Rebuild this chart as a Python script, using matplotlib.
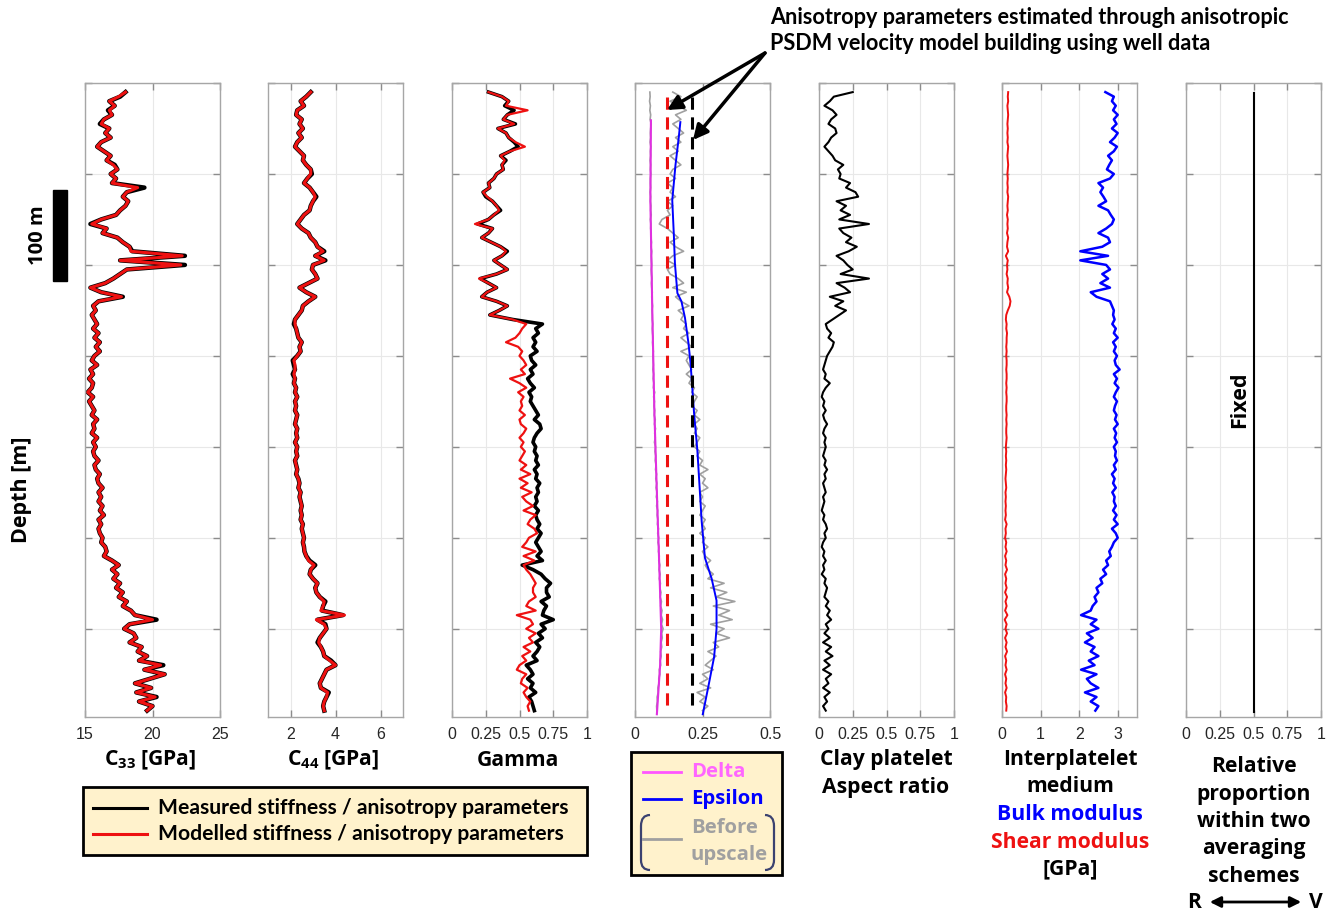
import numpy as np
import matplotlib.pyplot as plt
from matplotlib.patches import Rectangle, FancyArrowPatch, PathPatch
from matplotlib.path import Path
import matplotlib.transforms as mtransforms

plt.rcParams['mathtext.fontset'] = 'custom'
plt.rcParams['mathtext.bf'] = 'Open Sans:bold'
plt.rcParams['mathtext.rm'] = 'Open Sans:bold'

# depth samples of the logs [m below top of interval], 5 m spacing
depth = np.arange(10, 695, 5)

# C33 [GPa]
c33_meas = [18.0, 17.6, 16.8, 17.2, 16.7, 17.0, 16.4, 16.1, 16.8, 16.5,
            16.9, 16.2, 15.9, 16.4, 16.9, 16.6, 17.2, 17.4, 16.9, 17.3,
            17.0, 19.4, 18.1, 17.8, 18.2, 18.0, 17.6, 17.3, 16.2, 15.4,
            16.6, 16.3, 17.4, 17.8, 18.3, 18.5, 22.4, 17.6, 22.4, 18.1,
            17.6, 17.1, 16.5, 15.4, 16.2, 17.8, 16.0, 15.6, 15.8, 15.5,
            15.7, 15.9, 15.6, 16.0, 15.7, 16.1, 15.8, 16.1, 15.7, 15.5,
            15.9, 15.4, 15.6, 15.3, 15.6, 15.5, 15.2, 15.6, 15.3, 15.5,
            15.7, 15.5, 15.9, 15.6, 15.7, 15.5, 15.9, 15.6, 15.8, 15.6,
            15.7, 16.0, 15.7, 15.8, 16.1, 15.9, 16.0, 16.3, 16.0, 16.2,
            16.0, 16.3, 16.1, 16.4, 16.0, 16.2, 16.0, 16.1, 16.3, 16.2,
            16.5, 16.6, 16.4, 17.0, 17.5, 17.0, 17.4, 17.1, 17.6, 17.3,
            17.8, 17.5, 18.1, 17.8, 18.4, 18.7, 20.3, 18.3, 17.9, 18.6,
            18.8, 18.3, 19.2, 18.9, 19.6, 19.0, 20.8, 19.4, 20.9, 19.8,
            18.7, 19.9, 18.8, 20.3, 19.0, 20.0, 19.6]
c33_mod = [18.0, 17.5, 16.8, 17.2, 16.8, 17.0, 16.4, 16.2, 16.8, 16.5,
           16.9, 16.2, 15.9, 16.4, 16.9, 16.6, 17.1, 17.4, 16.9, 17.3,
           17.0, 18.9, 18.1, 17.8, 18.2, 18.0, 17.6, 17.3, 16.2, 15.5,
           16.6, 16.3, 17.4, 17.8, 18.3, 18.4, 22.2, 17.6, 22.1, 18.1,
           17.6, 17.1, 16.5, 15.4, 16.2, 17.7, 16.0, 15.6, 15.8, 15.5,
           15.7, 15.9, 15.6, 16.0, 15.7, 16.1, 15.8, 16.1, 15.7, 15.5,
           15.9, 15.4, 15.6, 15.3, 15.6, 15.5, 15.2, 15.6, 15.3, 15.5,
           15.7, 15.5, 15.9, 15.6, 15.7, 15.5, 15.9, 15.6, 15.8, 15.6,
           15.7, 16.0, 15.7, 15.8, 16.1, 15.9, 16.0, 16.3, 16.0, 16.2,
           16.0, 16.3, 16.1, 16.4, 16.0, 16.2, 16.0, 16.1, 16.3, 16.2,
           16.5, 16.6, 16.4, 17.0, 17.5, 17.0, 17.4, 17.1, 17.6, 17.3,
           17.8, 17.5, 18.1, 17.8, 18.4, 18.7, 20.0, 18.3, 17.9, 18.6,
           18.8, 18.3, 19.2, 18.9, 19.6, 19.0, 20.6, 19.4, 20.9, 19.8,
           18.7, 19.9, 18.8, 20.2, 19.0, 20.0, 19.6]

# C44 [GPa]
c44_meas = [2.9, 2.7, 2.45, 2.6, 2.3, 2.25, 2.5, 2.4, 2.55, 2.35,
            2.5, 2.3, 2.2, 2.4, 2.6, 2.55, 2.7, 2.9, 2.95, 2.75,
            2.6, 2.85, 3.0, 3.15, 3.0, 2.9, 2.85, 2.6, 2.45, 2.3,
            2.5, 2.8, 2.9, 3.1, 3.2, 3.5, 3.1, 3.55, 3.0, 2.95,
            3.1, 3.2, 2.8, 2.4, 2.7, 3.1, 2.8, 2.55, 2.5, 2.35,
            2.2, 2.15, 2.25, 2.3, 2.35, 2.5, 2.4, 2.45, 2.3, 2.1,
            2.15, 2.2, 2.1, 2.2, 2.15, 2.25, 2.2, 2.3, 2.2, 2.25,
            2.2, 2.3, 2.25, 2.2, 2.3, 2.25, 2.3, 2.2, 2.3, 2.25,
            2.3, 2.2, 2.25, 2.3, 2.25, 2.35, 2.4, 2.35, 2.45, 2.4,
            2.45, 2.5, 2.45, 2.5, 2.45, 2.55, 2.5, 2.55, 2.6, 2.55,
            2.6, 2.62, 2.7, 2.84, 3.1, 2.9, 2.85, 3.0, 3.2, 3.1,
            3.15, 3.3, 3.55, 3.45, 3.4, 4.33, 3.2, 3.55, 3.6, 3.45,
            3.3, 3.2, 3.35, 3.45, 3.5, 3.8, 4.0, 3.6, 3.5, 3.4,
            3.3, 3.35, 3.7, 3.6, 3.5, 3.45, 3.5]
c44_mod = [2.9, 2.7, 2.45, 2.6, 2.3, 2.25, 2.5, 2.4, 2.55, 2.35,
           2.5, 2.3, 2.2, 2.4, 2.6, 2.55, 2.7, 2.9, 2.9, 2.75,
           2.6, 2.85, 3.0, 3.1, 3.0, 2.9, 2.85, 2.6, 2.45, 2.3,
           2.5, 2.8, 2.9, 3.1, 3.2, 3.45, 3.1, 3.5, 3.0, 2.95,
           3.1, 3.2, 2.8, 2.4, 2.7, 3.1, 2.8, 2.55, 2.5, 2.35,
           2.2, 2.2, 2.25, 2.3, 2.35, 2.5, 2.4, 2.45, 2.3, 2.15,
           2.2, 2.2, 2.15, 2.2, 2.15, 2.25, 2.2, 2.3, 2.2, 2.25,
           2.2, 2.3, 2.25, 2.2, 2.3, 2.25, 2.3, 2.2, 2.3, 2.25,
           2.3, 2.2, 2.25, 2.3, 2.25, 2.35, 2.4, 2.35, 2.45, 2.4,
           2.45, 2.5, 2.45, 2.5, 2.45, 2.55, 2.5, 2.55, 2.6, 2.55,
           2.6, 2.62, 2.7, 2.8, 3.05, 2.9, 2.85, 3.0, 3.2, 3.1,
           3.15, 3.3, 3.5, 3.45, 3.35, 4.4, 3.15, 3.5, 3.6, 3.45,
           3.3, 3.25, 3.35, 3.45, 3.5, 3.75, 4.0, 3.6, 3.5, 3.4,
           3.3, 3.35, 3.65, 3.6, 3.5, 3.45, 3.5]

# Gamma
gamma_meas = [0.27, 0.37, 0.42, 0.39, 0.46, 0.41, 0.38, 0.47, 0.34, 0.40,
              0.42, 0.46, 0.49, 0.43, 0.36, 0.40, 0.37, 0.38, 0.33, 0.31,
              0.27, 0.28, 0.23, 0.25, 0.30, 0.33, 0.36, 0.31, 0.27, 0.19,
              0.30, 0.27, 0.22, 0.29, 0.36, 0.41, 0.37, 0.31, 0.36, 0.41,
              0.33, 0.21, 0.27, 0.33, 0.26, 0.22, 0.33, 0.41, 0.35, 0.28,
              0.45, 0.67, 0.62, 0.64, 0.60, 0.62, 0.60, 0.63, 0.58, 0.59,
              0.62, 0.58, 0.60, 0.56, 0.58, 0.61, 0.57, 0.59, 0.58, 0.60,
              0.62, 0.64, 0.61, 0.65, 0.66, 0.63, 0.61, 0.60, 0.62, 0.61,
              0.63, 0.62, 0.64, 0.61, 0.63, 0.62, 0.65, 0.63, 0.64, 0.62,
              0.63, 0.61, 0.64, 0.62, 0.63, 0.65, 0.63, 0.66, 0.64, 0.62,
              0.64, 0.66, 0.63, 0.67, 0.52, 0.60, 0.66, 0.69, 0.73, 0.70,
              0.70, 0.72, 0.66, 0.70, 0.68, 0.67, 0.75, 0.66, 0.69, 0.64,
              0.67, 0.62, 0.65, 0.63, 0.60, 0.63, 0.55, 0.58, 0.60, 0.56,
              0.60, 0.58, 0.62, 0.57, 0.59, 0.60, 0.61]
gamma_mod = [0.27, 0.37, 0.42, 0.40, 0.56, 0.41, 0.38, 0.46, 0.34, 0.40,
             0.42, 0.47, 0.54, 0.43, 0.36, 0.39, 0.37, 0.38, 0.33, 0.31,
             0.27, 0.28, 0.23, 0.26, 0.30, 0.33, 0.35, 0.31, 0.27, 0.17,
             0.30, 0.27, 0.22, 0.29, 0.36, 0.40, 0.37, 0.31, 0.36, 0.41,
             0.33, 0.20, 0.27, 0.33, 0.26, 0.22, 0.33, 0.41, 0.35, 0.28,
             0.45, 0.55, 0.52, 0.50, 0.47, 0.40, 0.49, 0.52, 0.50, 0.53,
             0.55, 0.51, 0.54, 0.43, 0.50, 0.55, 0.49, 0.53, 0.51, 0.52,
             0.50, 0.54, 0.50, 0.51, 0.55, 0.53, 0.50, 0.53, 0.51, 0.54,
             0.52, 0.50, 0.55, 0.51, 0.58, 0.50, 0.56, 0.51, 0.59, 0.52,
             0.55, 0.60, 0.53, 0.62, 0.58, 0.56, 0.61, 0.63, 0.57, 0.55,
             0.52, 0.62, 0.53, 0.61, 0.53, 0.55, 0.58, 0.60, 0.62, 0.60,
             0.60, 0.62, 0.57, 0.55, 0.62, 0.48, 0.58, 0.60, 0.55, 0.62,
             0.57, 0.60, 0.53, 0.58, 0.52, 0.55, 0.50, 0.48, 0.55, 0.52,
             0.51, 0.56, 0.53, 0.55, 0.58, 0.56, 0.57]

# Delta / Epsilon before upscale (grey)
delta_raw = [0.055, 0.056, 0.054, 0.057, 0.055, 0.058, 0.056, 0.060, 0.058, 0.057,
             0.058, 0.056, 0.059, 0.057, 0.058, 0.056, 0.058, 0.057, 0.059, 0.057,
             0.057, 0.058, 0.056, 0.058, 0.057, 0.059, 0.058, 0.060, 0.057, 0.059,
             0.058, 0.060, 0.059, 0.061, 0.059, 0.062, 0.060, 0.061, 0.062, 0.060,
             0.061, 0.063, 0.061, 0.062, 0.064, 0.062, 0.063, 0.065, 0.063, 0.064,
             0.064, 0.066, 0.064, 0.065, 0.067, 0.065, 0.066, 0.068, 0.066, 0.067,
             0.068, 0.066, 0.069, 0.067, 0.070, 0.068, 0.073, 0.069, 0.072, 0.070,
             0.073, 0.071, 0.075, 0.072, 0.076, 0.073, 0.075, 0.072, 0.076, 0.074,
             0.077, 0.075, 0.078, 0.076, 0.080, 0.077, 0.081, 0.078, 0.082, 0.079,
             0.083, 0.080, 0.084, 0.082, 0.085, 0.083, 0.087, 0.084, 0.088, 0.085,
             0.089, 0.087, 0.090, 0.088, 0.092, 0.089, 0.093, 0.090, 0.094, 0.092,
             0.096, 0.093, 0.098, 0.095, 0.100, 0.097, 0.102, 0.098, 0.104, 0.099,
             0.101, 0.097, 0.099, 0.095, 0.097, 0.093, 0.095, 0.090, 0.092, 0.088,
             0.089, 0.085, 0.086, 0.082, 0.083, 0.080, 0.081]
epsilon_raw = [0.14, 0.17, 0.13, 0.16, 0.19, 0.15, 0.17, 0.14, 0.16, 0.18,
               0.15, 0.17, 0.14, 0.16, 0.13, 0.15, 0.17, 0.14, 0.13, 0.15,
               0.12, 0.14, 0.13, 0.15, 0.12, 0.14, 0.12, 0.13, 0.10, 0.09,
               0.12, 0.14, 0.16, 0.13, 0.15, 0.18, 0.14, 0.12, 0.15, 0.12,
               0.13, 0.16, 0.18, 0.14, 0.19, 0.15, 0.17, 0.20, 0.16, 0.18,
               0.17, 0.19, 0.18, 0.20, 0.17, 0.19, 0.21, 0.17, 0.20, 0.19,
               0.20, 0.21, 0.19, 0.21, 0.20, 0.22, 0.21, 0.23, 0.22, 0.21,
               0.23, 0.22, 0.24, 0.22, 0.23, 0.22, 0.24, 0.23, 0.22, 0.24,
               0.23, 0.25, 0.24, 0.27, 0.24, 0.26, 0.25, 0.27, 0.24, 0.25,
               0.24, 0.26, 0.25, 0.24, 0.26, 0.25, 0.26, 0.24, 0.26, 0.25,
               0.27, 0.25, 0.26, 0.28, 0.26, 0.27, 0.29, 0.27, 0.33, 0.28,
               0.34, 0.30, 0.37, 0.29, 0.35, 0.31, 0.36, 0.28, 0.33, 0.30,
               0.35, 0.29, 0.31, 0.27, 0.30, 0.28, 0.26, 0.29, 0.25, 0.27,
               0.24, 0.28, 0.23, 0.26, 0.24, 0.27, 0.25]

# upscaled Delta / Epsilon
delta_depth = [41, 129, 250, 364, 450, 522, 600, 640, 694]
delta_up = [0.059, 0.057, 0.064, 0.072, 0.081, 0.089, 0.097, 0.093, 0.081]
eps_depth = [43, 60, 90, 129, 168, 199, 231, 240, 258, 286, 309, 364, 404,
             482, 522, 545, 569, 600, 631, 663, 694]
eps_up = [0.168, 0.162, 0.150, 0.138, 0.144, 0.148, 0.157, 0.172, 0.185, 0.198,
          0.206, 0.219, 0.231, 0.247, 0.259, 0.284, 0.302, 0.302, 0.293, 0.272, 0.251]

# PSDM constant anisotropy parameters
psdm_depth = [15, 692]
psdm_delta = 0.12
psdm_eps = 0.21

# clay platelet aspect ratio
aspect = [0.25, 0.11, 0.08, 0.04, 0.10, 0.13, 0.09, 0.07, 0.12, 0.13,
          0.09, 0.07, 0.04, 0.07, 0.10, 0.12, 0.18, 0.14, 0.16, 0.15,
          0.23, 0.20, 0.27, 0.29, 0.13, 0.20, 0.16, 0.23, 0.15, 0.37,
          0.15, 0.18, 0.24, 0.20, 0.28, 0.22, 0.13, 0.18, 0.21, 0.25,
          0.16, 0.37, 0.13, 0.19, 0.23, 0.08, 0.18, 0.12, 0.20, 0.15,
          0.10, 0.05, 0.06, 0.09, 0.07, 0.11, 0.10, 0.08, 0.06, 0.05,
          0.04, 0.03, 0.05, 0.04, 0.08, 0.05, 0.03, 0.02, 0.04, 0.03,
          0.05, 0.03, 0.04, 0.06, 0.04, 0.03, 0.05, 0.04, 0.05, 0.04,
          0.03, 0.05, 0.04, 0.06, 0.04, 0.05, 0.03, 0.04, 0.05, 0.03,
          0.04, 0.03, 0.02, 0.04, 0.03, 0.05, 0.06, 0.04, 0.05, 0.03,
          0.02, 0.04, 0.03, 0.05, 0.03, 0.04, 0.02, 0.05, 0.04, 0.06,
          0.05, 0.04, 0.07, 0.05, 0.08, 0.06, 0.09, 0.05, 0.07, 0.04,
          0.08, 0.03, 0.09, 0.05, 0.10, 0.04, 0.08, 0.03, 0.09, 0.05,
          0.07, 0.03, 0.08, 0.04, 0.06, 0.03, 0.05]

# interplatelet medium moduli [GPa]
bulk = [2.68, 2.90, 2.85, 2.95, 2.88, 3.00, 2.90, 2.97, 2.85, 3.00,
        2.92, 2.80, 2.98, 2.90, 2.75, 2.85, 2.78, 2.72, 2.90, 2.80,
        2.50, 2.62, 2.55, 2.63, 2.70, 2.50, 2.75, 2.82, 2.90, 2.85,
        2.70, 2.50, 2.75, 2.80, 2.60, 2.03, 2.75, 2.03, 2.70, 2.80,
        2.60, 2.75, 2.55, 2.80, 2.30, 2.45, 2.80, 2.85, 2.90, 2.88,
        2.92, 2.86, 2.95, 2.90, 3.00, 2.88, 2.95, 2.90, 2.98, 2.92,
        2.95, 3.05, 2.90, 2.98, 2.92, 3.02, 2.95, 2.90, 2.98, 2.93,
        2.90, 2.97, 2.93, 3.00, 2.90, 2.96, 2.92, 2.98, 2.90, 2.95,
        2.93, 2.98, 2.90, 2.95, 2.85, 2.92, 2.88, 2.95, 2.86, 2.92,
        2.90, 2.95, 2.88, 2.97, 2.90, 3.00, 2.85, 2.95, 3.00, 2.90,
        2.85, 2.78, 2.82, 2.70, 2.75, 2.62, 2.70, 2.55, 2.60, 2.45,
        2.50, 2.40, 2.45, 2.35, 2.30, 2.05, 2.45, 2.30, 2.50, 2.20,
        2.35, 2.15, 2.40, 2.30, 2.50, 2.25, 2.40, 2.05, 2.45, 2.20,
        2.30, 2.50, 2.15, 2.45, 2.30, 2.50, 2.42]
shear = [0.16, 0.15, 0.16, 0.14, 0.15, 0.16, 0.15, 0.14, 0.15, 0.14,
         0.15, 0.14, 0.16, 0.15, 0.14, 0.15, 0.16, 0.15, 0.14, 0.15,
         0.14, 0.15, 0.14, 0.16, 0.15, 0.14, 0.15, 0.13, 0.15, 0.14,
         0.15, 0.13, 0.16, 0.14, 0.13, 0.16, 0.10, 0.15, 0.13, 0.14,
         0.12, 0.15, 0.14, 0.16, 0.13, 0.19, 0.22, 0.20, 0.15, 0.11,
         0.10, 0.12, 0.11, 0.13, 0.12, 0.12, 0.11, 0.12, 0.11, 0.12,
         0.12, 0.11, 0.12, 0.12, 0.11, 0.12, 0.11, 0.12, 0.12, 0.11,
         0.11, 0.12, 0.11, 0.12, 0.11, 0.11, 0.12, 0.11, 0.10, 0.11,
         0.10, 0.11, 0.10, 0.11, 0.10, 0.09, 0.10, 0.11, 0.09, 0.10,
         0.09, 0.10, 0.09, 0.10, 0.08, 0.12, 0.09, 0.10, 0.08, 0.11,
         0.09, 0.12, 0.08, 0.11, 0.09, 0.13, 0.08, 0.11, 0.09, 0.12,
         0.08, 0.13, 0.09, 0.12, 0.08, 0.14, 0.07, 0.12, 0.09, 0.13,
         0.08, 0.12, 0.09, 0.13, 0.08, 0.11, 0.09, 0.12, 0.08, 0.11,
         0.09, 0.12, 0.08, 0.11, 0.10, 0.12, 0.11]

# relative proportion Reuss <-> Voigt (fixed)
rv_depth = [11, 692]
rv_value = [0.5, 0.5]

W, H = 1335, 915
fig = plt.figure(figsize=(W / 100, H / 100), dpi=100)


def fx(x):
    return x / W


def fy(y):
    return 1 - y / H


RED = '#ee1111'
MAG = '#e030e0'
BLUE = '#0000ff'
GREY = '#a0a0a0'
WIDE = 'Open Sans'
NARROW = 'Lato'

lefts = [85, 268, 452, 635, 819, 1002, 1186]
axes = []
for lx in lefts:
    ax = fig.add_axes([fx(lx), fy(717), 135 / W, 634 / H])
    ax.set_ylim(697, 0)
    ax.set_yticks(np.arange(0, 700, 100))
    ax.set_yticklabels([])
    ax.grid(True, color='#e8e8e8', lw=0.8)
    ax.set_axisbelow(True)
    ax.tick_params(direction='in', top=True, right=True, length=5, width=1,
                   color='#8c8c8c', labelsize=11.5, labelcolor='#262626', pad=7)
    for s in ax.spines.values():
        s.set_color('#a6a6a6')
        s.set_linewidth(1)
    axes.append(ax)

ax1, ax2, ax3, ax4, ax5, ax6, ax7 = axes


def xt(ax, lim, ticks, labels):
    ax.set_xlim(lim)
    ax.set_xticks(ticks)
    ax.set_xticklabels(labels, fontfamily='Liberation Sans')


xt(ax1, (15, 25), [15, 20, 25], ['15', '20', '25'])
xt(ax2, (1, 7), [2, 4, 6], ['2', '4', '6'])
xt(ax3, (0, 1), [0, 0.25, 0.5, 0.75, 1], ['0', '0.25', '0.5', '0.75', '1'])
xt(ax4, (0, 0.5), [0, 0.25, 0.5], ['0', '0.25', '0.5'])
xt(ax5, (0, 1), [0, 0.25, 0.5, 0.75, 1], ['0', '0.25', '0.5', '0.75', '1'])
xt(ax6, (0, 3.5), [0, 1, 2, 3], ['0', '1', '2', '3'])
xt(ax7, (0, 1), [0, 0.25, 0.5, 0.75, 1], ['0', '0.25', '0.5', '0.75', '1'])

# panel 1-3: measured vs modelled
ax1.plot(c33_meas, depth, color='k', lw=3.2)
ax1.plot(c33_mod, depth, color=RED, lw=2.2)
ax2.plot(c44_meas, depth, color='k', lw=3.2)
ax2.plot(c44_mod, depth, color=RED, lw=2.2)
ax3.plot(gamma_meas, depth, color='k', lw=2.6)
ax3.plot(gamma_mod, depth, color=RED, lw=1.6)

# panel 4: delta / epsilon
ax4.plot(delta_raw, depth, color=GREY, lw=1.2)
ax4.plot(epsilon_raw, depth, color=GREY, lw=1.2)
ax4.plot(delta_up, delta_depth, color=MAG, lw=1.5)
ax4.plot(eps_up, eps_depth, color=BLUE, lw=1.4)
ax4.plot([psdm_delta] * 2, psdm_depth, color=RED, lw=2.2, dashes=(4, 2.5))
ax4.plot([psdm_eps] * 2, psdm_depth, color='k', lw=2.2, dashes=(4, 2.5))

# panel 5-7
ax5.plot(aspect, depth, color='k', lw=1.5)
ax6.plot(shear, depth, color=RED, lw=1.4)
ax6.plot(bulk, depth, color=BLUE, lw=1.8)
ax7.plot(rv_value, rv_depth, color='k', lw=1.5)
ax7.text(0.4, 348, 'Fixed', rotation=90, ha='center', va='center',
         fontfamily=WIDE, fontweight='bold', fontsize=15.5)

# 100 m scale bar
trans = mtransforms.blended_transform_factory(ax1.transAxes, ax1.transData)
ax1.add_patch(Rectangle(((53 - 85) / 135, 117.5), 14 / 135, 100, transform=trans,
                        color='k', clip_on=False))
fig.text(fx(38), fy(235), '100 m', rotation=90, ha='center', va='center',
         fontfamily=WIDE, fontweight='bold', fontsize=14.5)
fig.text(fx(22), fy(490), 'Depth [m]', rotation=90, ha='center', va='center',
         fontfamily=WIDE, fontweight='bold', fontsize=15.5)

# panel labels
lk = dict(ha='center', va='center', fontfamily=WIDE, fontweight='bold', fontsize=15.2)
fig.text(fx(150), fy(760), r'C$_{\mathbf{33}}$ [GPa]', **lk)
fig.text(fx(333), fy(760), r'C$_{\mathbf{44}}$ [GPa]', **lk)
fig.text(fx(518), fy(760), 'Gamma', **lk)
fig.text(fx(886), fy(760), 'Clay platelet', **lk)
fig.text(fx(886), fy(787), 'Aspect ratio', **lk)
fig.text(fx(1070), fy(760), 'Interplatelet', **lk)
fig.text(fx(1070), fy(787), 'medium', **lk)
fig.text(fx(1070), fy(815), 'Bulk modulus', color=BLUE, **lk)
fig.text(fx(1070), fy(842), 'Shear modulus', color=RED, **lk)
fig.text(fx(1070), fy(869), '[GPa]', **lk)
for i, s in enumerate(['Relative', 'proportion', 'within two', 'averaging', 'schemes']):
    fig.text(fx(1254), fy(767 + 27.3 * i), s, **lk)
fig.text(fx(1194), fy(903), 'R', **lk)
fig.text(fx(1316), fy(903), 'V', **lk)
fig.add_artist(FancyArrowPatch((fx(1207), fy(902)), (fx(1304), fy(902)),
                               transform=fig.transFigure, arrowstyle='<|-|>',
                               mutation_scale=16, lw=2, color='k'))

# annotation on top
fig.text(fx(770), fy(17), 'Anisotropy parameters estimated through anisotropic',
         ha='left', va='center', fontfamily=NARROW, fontweight='bold', fontsize=15.6)
fig.text(fx(770), fy(43), 'PSDM velocity model building using well data',
         ha='left', va='center', fontfamily=NARROW, fontweight='bold', fontsize=15.6)
for tip in [(667, 110), (693, 140)]:
    fig.add_artist(FancyArrowPatch((fx(765), fy(53)), (fx(tip[0]), fy(tip[1])),
                                   transform=fig.transFigure, arrowstyle='-|>',
                                   mutation_scale=22, lw=2.5, color='k',
                                   shrinkA=0, shrinkB=0))

# legend 1
fig.add_artist(Rectangle((fx(83), fy(855)), 504 / W, 68 / H, transform=fig.transFigure,
                         facecolor='#fff2cc', edgecolor='k', lw=2))
for yy, c, s in [(808, 'k', 'Measured stiffness / anisotropy parameters'),
                 (834, RED, 'Modelled stiffness / anisotropy parameters')]:
    fig.add_artist(plt.Line2D([fx(93), fx(147)], [fy(yy), fy(yy)], color=c, lw=2.2,
                              transform=fig.transFigure))
    fig.text(fx(158), fy(yy), s, ha='left', va='center', fontfamily=NARROW,
             fontweight='bold', fontsize=15.2)

# legend 2
fig.add_artist(Rectangle((fx(631), fy(875)), 151 / W, 123 / H, transform=fig.transFigure,
                         facecolor='#fff2cc', edgecolor='k', lw=2))
lk2 = dict(ha='left', va='center', fontfamily=WIDE, fontweight='bold', fontsize=14.6)
fig.add_artist(plt.Line2D([fx(643), fx(681)], [fy(772), fy(772)], color='#ff55ff', lw=2,
                          transform=fig.transFigure))
fig.text(fx(691), fy(772), 'Delta', color='#ff66ff', **lk2)
fig.add_artist(plt.Line2D([fx(643), fx(681)], [fy(799), fy(799)], color=BLUE, lw=2,
                          transform=fig.transFigure))
fig.text(fx(691), fy(799), 'Epsilon', color=BLUE, **lk2)
fig.add_artist(plt.Line2D([fx(643), fx(681)], [fy(839), fy(839)], color=GREY, lw=2,
                          transform=fig.transFigure))
fig.text(fx(691), fy(828), 'Before', color=GREY, **lk2)
fig.text(fx(691), fy(855), 'upscale', color=GREY, **lk2)
for x0, x1 in [(650, 641), (765, 774)]:
    verts = [(x0, 815), (x1, 815), (x1, 826), (x1, 860), (x1, 870), (x0, 870)]
    verts = [(fx(a), fy(b)) for a, b in verts]
    codes = [Path.MOVETO, Path.CURVE3, Path.CURVE3, Path.LINETO, Path.CURVE3, Path.CURVE3]
    fig.add_artist(PathPatch(Path(verts, codes), transform=fig.transFigure,
                             facecolor='none', edgecolor='#3b4270', lw=1.6))

fig.savefig('out.png', dpi=100)
